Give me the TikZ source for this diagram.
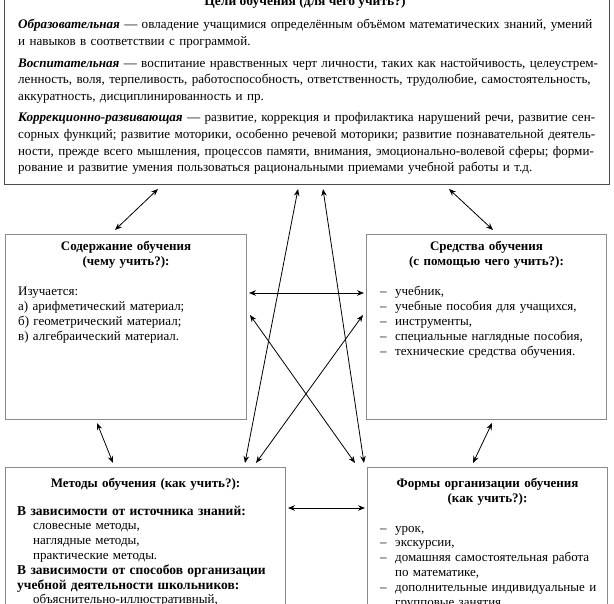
\documentclass[tikz,border=0pt]{standalone}
\usepackage{fontspec}
\setmainfont{Liberation Serif}
\usetikzlibrary{arrows.meta,calc}
\newcommand\jline[1]{\makebox[\linewidth][s]{#1}}
\newcommand\dashitem[1]{\makebox[15pt][l]{–}#1}
\newcommand\indentline[1]{\hspace*{16pt}#1}
\begin{document}
\begin{tikzpicture}[x=1pt,y=-1pt,
  goalbox/.style={draw=black!70,line width=1.1pt,rectangle,inner sep=0pt},
  framebox/.style={draw=black!45,line width=1pt,rectangle,inner sep=0pt},
  bigtext/.style={inner sep=0pt,align=left,font=\fontsize{13.1}{16.6}\selectfont},
  boxtitle/.style={inner sep=0pt,align=center,font=\fontsize{13}{15}\selectfont\bfseries},
  boxbody/.style={inner sep=0pt,align=left,font=\fontsize{13}{14.8}\selectfont},
  link/.style={line width=0.8pt,{Stealth[length=7pt,width=5.5pt]}-{Stealth[length=7pt,width=5.5pt]}}
]
\useasboundingbox (0,0) rectangle (614,604);
\clip (0,0) rectangle (614,604);
\fill[white] (0,0) rectangle (614,604);

% boxes
\node[goalbox,minimum width=605pt,minimum height=200pt,anchor=south west] (goals) at (4,185) {};
\node[framebox,minimum width=241pt,minimum height=185pt,anchor=north west] (content) at (5,234) {};
\node[framebox,minimum width=240pt,minimum height=185pt,anchor=north west] (means) at (366,234) {};
\node[framebox,minimum width=280pt,minimum height=170pt,anchor=north west] (methods) at (5,467) {};
\node[framebox,minimum width=240pt,minimum height=170pt,anchor=north west] (forms) at (367,467) {};

% goals text
\node[inner sep=0pt,anchor=base,font=\fontsize{13.5}{16}\selectfont\bfseries] (goalstitle) at (305,6) {Цели обучения (для чего учить?)};
\node[bigtext,anchor=base west,text width=586pt] (goalstext) at (18,29) {%
\jline{\textbf{\textit{Образовательная}} — овладение учащимися определённым объёмом математических знаний, умений}\\
и навыков в соответствии с программой.\\[5pt]
\jline{\textbf{\textit{Воспитательная}} — воспитание нравственных черт личности, таких как настойчивость, целеустрем-}\\
\jline{ленность, воля, терпеливость, работоспособность, ответственность, трудолюбие, самостоятельность,}\\
аккуратность, дисциплинированность и пр.\\[5pt]
\jline{\textbf{\textit{Коррекционно-развивающая}} — развитие, коррекция и профилактика нарушений речи, развитие сен-}\\
\jline{сорных функций; развитие моторики, особенно речевой моторики; развитие познавательной деятель-}\\
\jline{ности, прежде всего мышления, процессов памяти, внимания, эмоционально-волевой сферы; форми-}\\
рование и развитие умения пользоваться рациональными приемами учебной работы и т.д.};

% content
\node[boxtitle,anchor=base,text width=241pt] (contenttitle) at ($(content.north)+(0,17)$) {Содержание обучения\\(чему учить?):};
\node[boxbody,anchor=base west,text width=220pt] (contentbody) at ($(content.north west)+(13,62)$) {Изучается:\\а) арифметический материал;\\б) геометрический материал;\\в) алгебраический материал.};

% means
\node[boxtitle,anchor=base,text width=240pt] (meanstitle) at ($(means.north)+(0,17)$) {Средства обучения\\(с помощью чего учить?):};
\node[boxbody,anchor=base west,text width=220pt] (meansbody) at ($(means.north west)+(14,62)$) {\dashitem{учебник,}\\\dashitem{учебные пособия для учащихся,}\\\dashitem{инструменты,}\\\dashitem{специальные наглядные пособия,}\\\dashitem{технические средства обучения.}};

% methods
\node[boxtitle,anchor=base,text width=280pt] (methodstitle) at ($(methods.north)+(0,20)$) {Методы обучения (как учить?):};
\node[boxbody,anchor=base west,text width=263pt] (methodsbody) at ($(methods.north west)+(12,48)$) {%
{\fontsize{13.5}{14.8}\selectfont\bfseries В зависимости от источника знаний:}\\
\indentline{словесные методы,}\\
\indentline{наглядные методы,}\\
\indentline{практические методы.}\\
\jline{\fontsize{13.5}{14.8}\selectfont\bfseries В зависимости от способов организации}\\
{\fontsize{13.5}{14.8}\selectfont\bfseries учебной деятельности школьников:}\\
\indentline{объяснительно-иллюстративный,}};

% forms
\node[boxtitle,anchor=base,text width=240pt] (formstitle) at ($(forms.north)+(0,20)$) {Формы организации обучения\\(как учить?):};
\node[boxbody,anchor=base west,text width=222pt] (formsbody) at ($(forms.north west)+(13,65)$) {%
\dashitem{урок,}\\
\dashitem{экскурсии,}\\
\dashitem{домашняя самостоятельная работа}\\
\hspace*{15pt}по математике,\\
\dashitem{дополнительные индивидуальные и}\\
\hspace*{15pt}групповые занятия,};

% connectors
\draw[link] ($(goals.south west)+(154,4)$) -- ($(content.north west)+(110,-4)$);
\draw[link] ($(goals.south west)+(445,4)$) -- ($(means.north west)+(127,-4)$);
\draw[link] ($(goals.south west)+(294,4)$) -- ($(methods.north west)+(240,-4)$);
\draw[link] ($(goals.south west)+(319,4)$) -- ($(forms.north west)+(-3,-4)$);
\draw[link] ($(content.north east)+(2,59)$) -- ($(means.north west)+(-2,59)$);
\draw[link] ($(content.north east)+(3,81)$) -- ($(forms.north west)+(-12,-4)$);
\draw[link] ($(means.north west)+(-3,81)$) -- ($(methods.north west)+(251,-4)$);
\draw[link] ($(methods.north east)+(2,41)$) -- ($(forms.north west)+(-2,41)$);
\draw[link] ($(content.south west)+(92,3)$) -- ($(methods.north west)+(108,-4)$);
\draw[link] ($(means.south west)+(126,3)$) -- ($(forms.north west)+(106,-4)$);
\end{tikzpicture}
\end{document}
